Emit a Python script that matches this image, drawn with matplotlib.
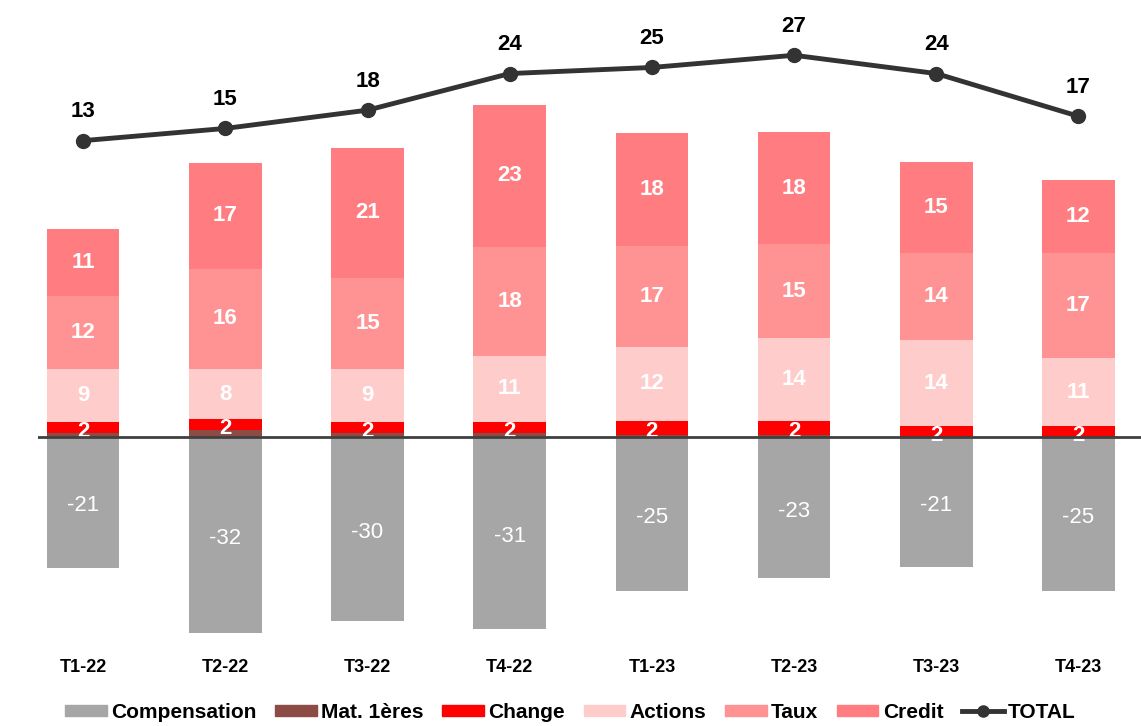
import numpy as np
import matplotlib
matplotlib.use("Agg")
import matplotlib.pyplot as plt
from matplotlib.patches import Patch
from matplotlib.lines import Line2D

plt.rcParams['font.family'] = ['Liberation Sans', 'DejaVu Sans']

# data
quarters = ["T1-22", "T2-22", "T3-22", "T4-22", "T1-23", "T2-23", "T3-23", "T4-23"]
compensation = [-21.4, -32.1, -30.2, -31.4, -25.2, -23.1, -21.3, -25.2]
mat_premieres = [0.6, 1.1, 0.6, 0.6, 0.3, 0.3, 0.0, 0.0]
change = [1.9, 1.8, 1.9, 1.9, 2.4, 2.3, 1.8, 1.8]
actions = [8.6, 8.3, 8.7, 10.8, 12.0, 13.6, 14.1, 11.1]
taux = [12.0, 16.4, 14.9, 17.9, 16.7, 15.4, 14.3, 17.2]
credit = [11.0, 17.3, 21.3, 23.3, 18.4, 18.4, 14.9, 12.0]
total = [13, 15, 18, 24, 25, 27, 24, 17]

colors = {
    "Compensation": "#A6A6A6",
    "Mat. 1ères": "#8C4B45",
    "Change": "#FF0000",
    "Actions": "#FFCCCC",
    "Taux": "#FF9393",
    "Credit": "#FF7C80",
}

x = np.arange(len(quarters))
w = 0.51

fig = plt.figure(figsize=(11.41, 7.26), dpi=100)
ax = fig.add_axes([0.033, 0.1116, 0.967, 0.861])
ax.set_xlim(-0.32, 7.44)
ax.set_ylim(-34.1, 68.4)

# negative part
ax.bar(x, compensation, w, color=colors["Compensation"])
for xi, v in zip(x, compensation):
    ax.text(xi, v / 2 - 0.6, f"{v:.0f}", ha="center", va="center", color="white", fontsize=16)

# positive stack
bottom = np.zeros(len(x))
stack = [("Mat. 1ères", mat_premieres), ("Change", change), ("Actions", actions),
         ("Taux", taux), ("Credit", credit)]
for name, vals in stack:
    vals = np.array(vals)
    ax.bar(x, vals, w, bottom=bottom, color=colors[name])
    if name != "Mat. 1ères":
        for xi, b, v in zip(x, bottom, vals):
            ax.text(xi, b + v / 2 - (0.6 if name == "Change" else 0), f"{v:.0f}",
                    ha="center", va="center", color="white", fontsize=16, fontweight="bold")
    bottom += vals

ax.axhline(0, color="#404040", lw=2, zorder=5)

for s in ax.spines.values():
    s.set_visible(False)
ax.set_yticks([])
ax.set_xticks(x)
ax.set_xticklabels(quarters, fontsize=13, fontweight="bold")
ax.tick_params(axis="x", length=0, pad=10)

# total line on its own axis, same scale but shifted up
ax2 = ax.twinx()
shift = 35.6
ax2.set_ylim(-34.1 - shift, 68.4 - shift)
ax2.plot(x, total, color="#333333", lw=3.5, marker="o", ms=10)
for xi, v in zip(x, total):
    ax2.text(xi, v + 3.0, f"{v}", ha="center", va="bottom", fontsize=16, fontweight="bold")
ax2.set_yticks([])
for s in ax2.spines.values():
    s.set_visible(False)

handles = [Patch(color=colors[n]) for n in colors]
handles.append(Line2D([], [], color="#333333", lw=3.5, marker="o", ms=8))
labels = list(colors) + ["TOTAL"]
fig.legend(handles, labels, loc="lower center", bbox_to_anchor=(0.5, -0.02), ncol=7,
           frameon=False, prop={"weight": "bold", "size": 15},
           handlelength=2.0, handleheight=0.45, handletextpad=0.2, columnspacing=0.9)

fig.savefig("out.png", dpi=100)
